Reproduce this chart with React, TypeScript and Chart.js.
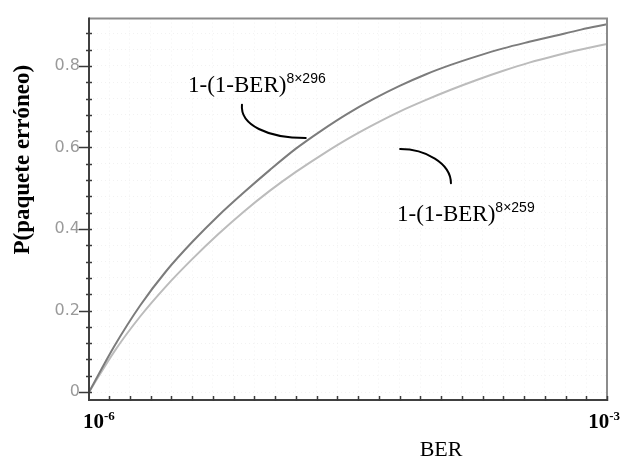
import React, { useEffect, useRef } from 'react';
import { Chart, registerables } from 'chart.js';

Chart.register(...registerables);

// BER sample points (x axis, linear from 1e-6 to 1e-3)
const berValues = [
  1e-6, 0.05e-3, 0.1e-3, 0.15e-3, 0.2e-3, 0.25e-3, 0.3e-3, 0.35e-3, 0.4e-3, 0.45e-3, 0.5e-3,
  0.55e-3, 0.6e-3, 0.65e-3, 0.7e-3, 0.75e-3, 0.8e-3, 0.85e-3, 0.9e-3, 0.95e-3, 1e-3,
];
// P(paquete erróneo) for 8x296 bits (upper, darker curve)
const p296 = [
  0, 0.113, 0.213, 0.297, 0.368, 0.432, 0.49, 0.545, 0.597, 0.642, 0.683,
  0.719, 0.751, 0.779, 0.803, 0.824, 0.843, 0.859, 0.874, 0.889, 0.902,
];
// P(paquete erróneo) for 8x259 bits (lower, lighter curve)
const p259 = [
  0, 0.1, 0.186, 0.26, 0.326, 0.387, 0.443, 0.494, 0.54, 0.582, 0.621,
  0.656, 0.688, 0.716, 0.742, 0.766, 0.788, 0.808, 0.825, 0.84, 0.854,
];

const yTickValues = [
  0, 0.04, 0.08, 0.12, 0.16, 0.2, 0.24, 0.28, 0.32, 0.36, 0.4, 0.44,
  0.48, 0.52, 0.56, 0.6, 0.64, 0.68, 0.72, 0.76, 0.8, 0.84, 0.88,
];
const yMajorTicks = [0, 0.2, 0.4, 0.6, 0.8];
const yTickLabels = ['0', '0.2', '0.4', '0.6', '0.8'];
const xTickValues = [
  0.04e-3, 0.08e-3, 0.12e-3, 0.16e-3, 0.2e-3, 0.24e-3, 0.28e-3, 0.32e-3, 0.36e-3, 0.4e-3,
  0.44e-3, 0.48e-3, 0.52e-3, 0.56e-3, 0.6e-3, 0.64e-3, 0.68e-3, 0.72e-3, 0.76e-3, 0.8e-3,
  0.84e-3, 0.88e-3, 0.92e-3, 0.96e-3, 1e-3,
];
const xEndLabels = [
  { base: '10', exp: '-6' },
  { base: '10', exp: '-3' },
];
const xTitle = 'BER';
const yTitle = 'P(paquete erróneo)';

// curve annotations (data coordinates)
const curveLabels = [
  { text: '1-(1-BER)', sup: '8×296', x: 0.192e-3, y: 0.735 },
  { text: '1-(1-BER)', sup: '8×259', x: 0.595e-3, y: 0.419 },
];
const leaderArcs = [
  [
    { x: 0.296e-3, y: 0.705 },
    { x: 0.292e-3, y: 0.655 },
    { x: 0.346e-3, y: 0.623 },
    { x: 0.419e-3, y: 0.623 },
  ],
  [
    { x: 0.601e-3, y: 0.596 },
    { x: 0.649e-3, y: 0.596 },
    { x: 0.699e-3, y: 0.562 },
    { x: 0.699e-3, y: 0.512 },
  ],
];

const SERIF = '"Liberation Serif", "Times New Roman", serif';
const SANS = '"Liberation Sans", Arial, sans-serif';

const overlay = {
  id: 'overlay',
  afterDraw(chart: any) {
    const { ctx, chartArea: ca } = chart;
    const xs = chart.scales.x;
    const ys = chart.scales.y;
    ctx.save();

    // frame
    ctx.lineCap = 'butt';
    ctx.lineWidth = 2;
    ctx.strokeStyle = '#8c8c8c';
    ctx.beginPath();
    ctx.moveTo(ca.left, ca.top);
    ctx.lineTo(ca.right, ca.top);
    ctx.lineTo(ca.right, ca.bottom);
    ctx.stroke();
    ctx.strokeStyle = '#404040';
    ctx.beginPath();
    ctx.moveTo(ca.left, ca.top - 1);
    ctx.lineTo(ca.left, ca.bottom);
    ctx.lineTo(ca.right + 1, ca.bottom);
    ctx.stroke();

    // y ticks
    ctx.lineWidth = 1.5;
    ctx.strokeStyle = '#3a3a3a';
    yTickValues.forEach((v) => {
      const py = Math.round(ys.getPixelForValue(v)) + 0.5;
      const major = yMajorTicks.some((m) => Math.abs(m - v) < 1e-9);
      ctx.beginPath();
      ctx.moveTo(ca.left - (major ? 10 : 3), py);
      ctx.lineTo(ca.left + 3, py);
      ctx.stroke();
    });
    // x ticks
    xTickValues.forEach((v) => {
      const px = Math.round(xs.getPixelForValue(v)) + 0.5;
      ctx.beginPath();
      ctx.moveTo(px, ca.bottom - 4);
      ctx.lineTo(px, ca.bottom + 1);
      ctx.stroke();
    });

    // x end labels
    ctx.fillStyle = '#000';
    ctx.textBaseline = 'alphabetic';
    ctx.textAlign = 'left';
    const baseFont = 'bold 21px ' + SERIF;
    const expFont = 'bold 13px ' + SERIF;
    const drawPow = (lbl: { base: string; exp: string }, startX: number, baseY: number) => {
      ctx.font = baseFont;
      ctx.fillText(lbl.base, startX, baseY);
      const w = ctx.measureText(lbl.base).width;
      ctx.font = expFont;
      ctx.fillText(lbl.exp, startX + w, baseY - 8);
    };
    const measurePow = (lbl: { base: string; exp: string }) => {
      ctx.font = baseFont;
      const w1 = ctx.measureText(lbl.base).width;
      ctx.font = expFont;
      return w1 + ctx.measureText(lbl.exp).width;
    };
    drawPow(xEndLabels[0], xs.getPixelForValue(1e-6) - 6, ca.bottom + 28);
    drawPow(xEndLabels[1], xs.getPixelForValue(1e-3) + 13 - measurePow(xEndLabels[1]), ca.bottom + 28);

    // x title
    ctx.font = '22px ' + SERIF;
    ctx.textAlign = 'center';
    ctx.fillText(xTitle, xs.getPixelForValue(0.68e-3), ca.bottom + 56);

    // y title
    ctx.save();
    ctx.translate(23, ys.getPixelForValue(0.57));
    ctx.rotate(-Math.PI / 2);
    ctx.font = 'bold 23px ' + SERIF;
    ctx.textAlign = 'center';
    ctx.textBaseline = 'middle';
    ctx.fillText(yTitle, 0, 0);
    ctx.restore();

    // curve labels
    ctx.textAlign = 'left';
    ctx.textBaseline = 'alphabetic';
    curveLabels.forEach((c) => {
      const px = xs.getPixelForValue(c.x);
      const py = ys.getPixelForValue(c.y);
      ctx.font = '23px ' + SERIF;
      ctx.fillText(c.text, px, py);
      const w = ctx.measureText(c.text).width;
      ctx.font = '14px ' + SANS;
      ctx.fillText(c.sup, px + w, py - 9);
    });

    // leader arcs
    ctx.strokeStyle = '#000';
    ctx.lineWidth = 2;
    ctx.lineCap = 'round';
    leaderArcs.forEach((a) => {
      const p = a.map((q) => ({ x: xs.getPixelForValue(q.x), y: ys.getPixelForValue(q.y) }));
      ctx.beginPath();
      ctx.moveTo(p[0].x, p[0].y);
      ctx.bezierCurveTo(p[1].x, p[1].y, p[2].x, p[2].y, p[3].x, p[3].y);
      ctx.stroke();
    });

    ctx.restore();
  },
};

export default function App() {
  const ref = useRef<HTMLCanvasElement | null>(null);
  useEffect(() => {
    if (!ref.current) return;
    const chart = new Chart(ref.current, {
      type: 'line',
      data: {
        datasets: [
          {
            label: '8×296',
            data: berValues.map((b, i) => ({ x: b, y: p296[i] })),
            borderColor: '#7c7c7c',
            borderWidth: 2,
            pointRadius: 0,
            cubicInterpolationMode: 'monotone',
          },
          {
            label: '8×259',
            data: berValues.map((b, i) => ({ x: b, y: p259[i] })),
            borderColor: '#bcbcbc',
            borderWidth: 2,
            pointRadius: 0,
            cubicInterpolationMode: 'monotone',
          },
        ],
      },
      options: {
        animation: false,
        responsive: false,
        devicePixelRatio: 1,
        layout: { padding: { top: 14, right: 14, left: 0, bottom: 0 } },
        plugins: { legend: { display: false }, tooltip: { enabled: false } },
        scales: {
          x: {
            type: 'linear',
            min: 1e-6,
            max: 1e-3,
            afterBuildTicks: (s: any) => {
              s.ticks = xTickValues.map((v) => ({ value: v }));
            },
            afterFit: (s: any) => {
              s.height = 59;
            },
            ticks: { display: false },
            grid: { color: 'rgba(0,0,0,0.05)', drawTicks: false },
            border: { display: false, dash: [1, 3] },
          },
          y: {
            type: 'linear',
            min: -0.0194,
            max: 0.916,
            afterBuildTicks: (s: any) => {
              s.ticks = yTickValues.map((v) => ({ value: v }));
            },
            afterFit: (s: any) => {
              s.width = 89;
            },
            ticks: {
              autoSkip: false,
              padding: 9,
              color: '#9a9a9a',
              font: { family: '"DejaVu Sans"', size: 16 },
              callback: (v: any) => {
                const idx = yMajorTicks.findIndex((m) => Math.abs(m - Number(v)) < 1e-9);
                return idx >= 0 ? yTickLabels[idx] : '';
              },
            },
            grid: { color: 'rgba(0,0,0,0.05)', drawTicks: false },
            border: { display: false, dash: [1, 3] },
          },
        },
      },
      plugins: [overlay],
    } as any);
    return () => chart.destroy();
  }, []);
  return (
    <div style={{ position: 'fixed', left: 0, top: 0, width: 621, height: 459, background: '#fff' }}>
      <canvas ref={ref} width={621} height={459} />
    </div>
  );
}
